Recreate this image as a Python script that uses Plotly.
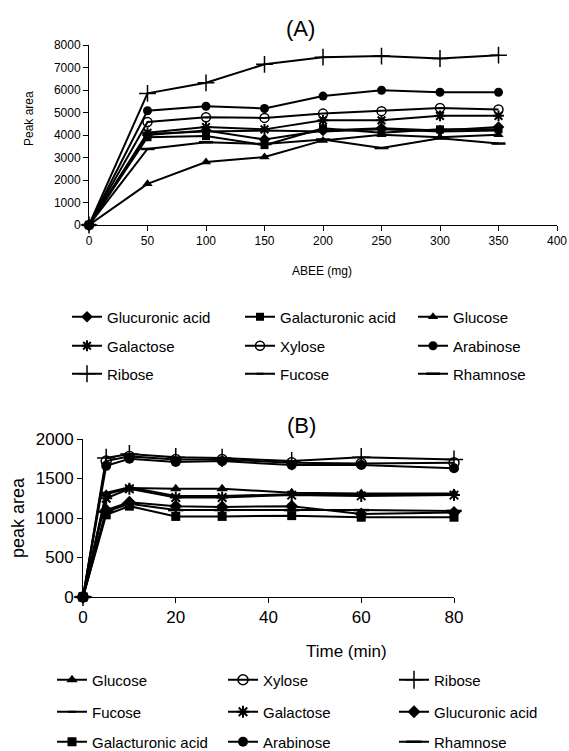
import plotly.graph_objects as go

W, H = 569, 751

# ---------------- Panel A data ----------------
abee_mg = [0, 50, 100, 150, 200, 250, 300, 350]
a_glucuronic = [0, 4000, 4200, 3800, 4200, 4300, 4200, 4350]
a_galacturonic = [0, 3900, 3950, 3550, 4300, 4100, 4250, 4250]
a_glucose = [0, 1830, 2800, 3020, 3760, 4010, 3900, 4010]
a_galactose = [0, 4100, 4350, 4250, 4650, 4650, 4850, 4850]
a_xylose = [0, 4580, 4790, 4760, 4950, 5060, 5200, 5130]
a_arabinose = [0, 5080, 5280, 5180, 5730, 5990, 5900, 5900]
a_ribose = [0, 5850, 6320, 7140, 7460, 7510, 7400, 7550]
a_fucose = [0, 4050, 4150, 4200, 4150, 4250, 4150, 4200]
a_rhamnose = [0, 3380, 3680, 3600, 3800, 3420, 3860, 3620]

# ---------------- Panel B data ----------------
time_min = [0, 5, 10, 20, 30, 45, 60, 80]
b_glucose = [0, 1300, 1380, 1370, 1370, 1320, 1310, 1310]
b_xylose = [0, 1720, 1780, 1740, 1740, 1700, 1690, 1700]
b_ribose = [0, 1760, 1810, 1770, 1760, 1720, 1770, 1740]
b_fucose = [0, 1320, 1390, 1280, 1280, 1300, 1290, 1290]
b_galactose = [0, 1250, 1370, 1260, 1260, 1290, 1280, 1290]
b_glucuronic = [0, 1100, 1200, 1150, 1140, 1150, 1050, 1070]
b_galacturonic = [0, 1040, 1150, 1020, 1020, 1030, 1010, 1010]
b_arabinose = [0, 1660, 1750, 1710, 1720, 1670, 1670, 1630]
b_rhamnose = [0, 1080, 1180, 1100, 1100, 1100, 1100, 1090]

FONT = "Liberation Sans, Arial, sans-serif"

def style(name):
    s = {
        "Glucuronic acid": dict(symbol="diamond", size=9),
        "Galacturonic acid": dict(symbol="square", size=8),
        "Glucose": dict(symbol="triangle-up", size=9),
        "Galactose": dict(symbol="asterisk-open", size=9, line=dict(width=2, color="black")),
        "Xylose": dict(symbol="circle-open", size=9, line=dict(width=1.5, color="black")),
        "Arabinose": dict(symbol="circle", size=9),
        "Ribose": dict(symbol="cross-thin-open", size=12, line=dict(width=1.5, color="black")),
        "Fucose": dict(symbol="line-ew-open", size=5, line=dict(width=2, color="black")),
        "Rhamnose": dict(symbol="line-ew-open", size=10, line=dict(width=2.5, color="black")),
    }[name]
    s["color"] = "black"
    return s

fig = go.Figure()

series_a = [
    ("Glucuronic acid", a_glucuronic, "legend"),
    ("Galacturonic acid", a_galacturonic, "legend"),
    ("Glucose", a_glucose, "legend"),
    ("Galactose", a_galactose, "legend2"),
    ("Xylose", a_xylose, "legend2"),
    ("Arabinose", a_arabinose, "legend2"),
    ("Ribose", a_ribose, "legend3"),
    ("Fucose", a_fucose, "legend3"),
    ("Rhamnose", a_rhamnose, "legend3"),
]
for name, ys, lg in series_a:
    fig.add_trace(go.Scatter(
        x=abee_mg, y=ys, name=name, mode="lines+markers",
        line=dict(color="black", width=2), marker=style(name),
        xaxis="x", yaxis="y", legend=lg, cliponaxis=False))

series_b = [
    ("Glucose", b_glucose, "legend4"),
    ("Xylose", b_xylose, "legend4"),
    ("Ribose", b_ribose, "legend4"),
    ("Fucose", b_fucose, "legend5"),
    ("Galactose", b_galactose, "legend5"),
    ("Glucuronic acid", b_glucuronic, "legend5"),
    ("Galacturonic acid", b_galacturonic, "legend6"),
    ("Arabinose", b_arabinose, "legend6"),
    ("Rhamnose", b_rhamnose, "legend6"),
]
for name, ys, lg in series_b:
    mk = style(name)
    mk["size"] = mk["size"] + 1
    fig.add_trace(go.Scatter(
        x=time_min, y=ys, name=name, mode="lines+markers",
        line=dict(color="black", width=2), marker=mk,
        xaxis="x2", yaxis="y2", legend=lg, cliponaxis=False))

def px_x(p):
    return p / W

def px_y(p):
    return 1 - p / H

axis_common = dict(showline=True, linecolor="black", linewidth=1, ticks="outside",
                   tickcolor="black", ticklen=5, showgrid=False, zeroline=False,
                   mirror=False)

fig.update_layout(
    width=W, height=H, margin=dict(l=0, r=0, t=0, b=0, autoexpand=False),
    paper_bgcolor="white", plot_bgcolor="white",
    font=dict(family=FONT, color="black"),
    xaxis=dict(domain=[px_x(89), px_x(557)], range=[0, 400], tickvals=list(range(0, 401, 50)),
               anchor="y", tickfont=dict(size=12), **axis_common),
    yaxis=dict(domain=[px_y(225), px_y(45)], range=[0, 8000], tickvals=list(range(0, 8001, 1000)),
               anchor="x", tickfont=dict(size=12), **axis_common),
    xaxis2=dict(domain=[px_x(83), px_x(454)], range=[0, 80], tickvals=[0, 20, 40, 60, 80],
                anchor="y2", tickfont=dict(size=17), **axis_common),
    yaxis2=dict(domain=[px_y(597), px_y(439)], range=[0, 2000], tickvals=[0, 500, 1000, 1500, 2000],
                anchor="x2", tickfont=dict(size=17), **axis_common),
)

leg_a = dict(orientation="h", entrywidth=128, entrywidthmode="pixels",
             font=dict(size=15, family=FONT, color="black"), bgcolor="rgba(0,0,0,0)",
             xanchor="left", yanchor="middle", itemclick=False, itemdoubleclick=False)
leg_b = dict(leg_a, entrywidth=126)
fig.update_layout(
    legend=dict(x=px_x(67), y=px_y(317), **leg_a),
    legend2=dict(x=px_x(67), y=px_y(346), **leg_a),
    legend3=dict(x=px_x(67), y=px_y(374), **leg_a),
    legend4=dict(x=px_x(52), y=px_y(680), **leg_b),
    legend5=dict(x=px_x(52), y=px_y(712), **leg_b),
    legend6=dict(x=px_x(52), y=px_y(742), **leg_b),
)

ann = [
    dict(text="(A)", x=px_x(300), y=px_y(28), font=dict(size=22)),
    dict(text="Peak area", x=px_x(29), y=px_y(119), font=dict(size=12), textangle=-90),
    dict(text="ABEE (mg)", x=px_x(322), y=px_y(271), font=dict(size=12)),
    dict(text="(B)", x=px_x(302), y=px_y(425), font=dict(size=22)),
    dict(text="peak area", x=px_x(18), y=px_y(518), font=dict(size=18), textangle=-90),
    dict(text="Time (min)", x=px_x(346), y=px_y(651), font=dict(size=17)),
]
for a in ann:
    fig.add_annotation(xref="paper", yref="paper", showarrow=False,
                       xanchor="center", yanchor="middle", **a)

fig.write_html("out.html")
